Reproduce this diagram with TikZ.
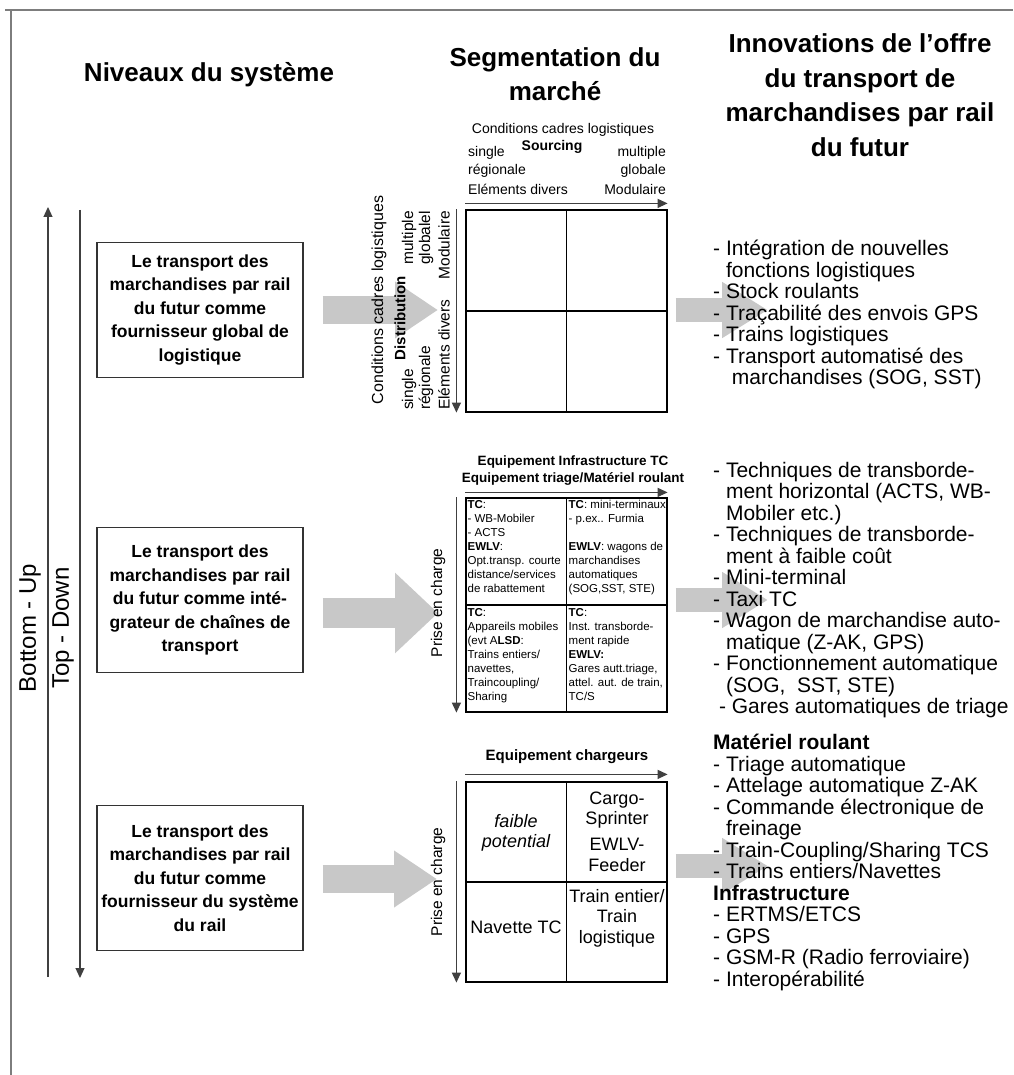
\documentclass[tikz,border=0pt]{standalone}
\usepackage{fontspec}
\setmainfont{Liberation Sans}
\usetikzlibrary{arrows.meta,positioning}
\definecolor{arrowgray}{RGB}{200,200,200}
\definecolor{framegray}{RGB}{125,125,125}
\pgfdeclarelayer{background}
\pgfsetlayers{background,main}

\begin{document}
\begin{tikzpicture}[
    x=1pt, y=-1pt,
    % text styles
    hdr/.style={align=center, font=\fontsize{26}{34.5}\selectfont\bfseries},
    lvlbox/.style={draw=black!80, line width=1.2pt, minimum width=206pt, minimum height=135pt, align=center, inner sep=0pt, font=\fontsize{17.5}{23.5}\selectfont\bfseries},
    lbl/.style={inner sep=0pt, font=\fontsize{14}{16}\selectfont},
    lblb/.style={inner sep=0pt, font=\fontsize{14}{16}\selectfont\bfseries},
    lblv/.style={inner sep=0pt, rotate=90, font=\fontsize{15.5}{17}\selectfont},
    listtxt/.style={anchor=north west, align=left, inner sep=0pt, font=\fontsize{21}{21.5}\selectfont},
    celltxt/.style={anchor=north west, align=left, inner sep=0pt, font=\fontsize{11.5}{14}\selectfont},
    celllg/.style={align=center, inner sep=0pt, font=\fontsize{18}{20.5}\selectfont},
    % shapes and arrows
    mat/.style={draw, line width=1.2pt, minimum width=201pt, inner sep=0pt},
    axis/.style={draw=black!75, line width=1.2pt, -{Triangle[length=10pt, width=9pt]}},
    bigarrow/.style={draw=arrowgray, line width=28pt, -{Triangle[length=43pt, width=54pt]}},
]
\useasboundingbox (0,0) rectangle (1013,1075);

% frame
\draw[framegray, line width=2pt] (5,10) -- (1013,10);
\draw[framegray, line width=2pt] (11,10) -- (11,1075);

% column headers
\node[hdr] (hsys) at (209,75) {Niveaux du système};
\node[hdr] (hseg) at (555,74) {Segmentation du\\marché};
\node[hdr] (hinn) at (860,95) {Innovations de l{\char"27}offre\\du transport de\\marchandises par rail\\du futur};

% system levels
\coordinate (bu0) at (48,977);
\coordinate (bu1) at (48,207);
\coordinate (td0) at (80,210);
\coordinate (td1) at (80,978);
\draw[axis] (bu0) -- (bu1);
\draw[axis] (td0) -- (td1);
\node[rotate=90, font=\fontsize{24}{28}\selectfont] (lblbu) at (30,628) {Bottom - Up};
\node[rotate=90, font=\fontsize{24}{28}\selectfont] (lbltd) at (63,628) {Top - Down};

\node[lvlbox] (lvl1) at (200,310) {Le transport des\\marchandises par rail\\du futur comme\\fournisseur global de\\logistique};
\node[lvlbox, minimum height=145pt] (lvl2) at (200,600) {Le transport des\\marchandises par rail\\du futur comme inté-\\grateur de chaînes de\\transport};
\node[lvlbox, minimum height=145pt] (lvl3) at (200,878) {Le transport des\\marchandises par rail\\du futur comme\\fournisseur du système\\du rail};

% market matrices
\node[mat, minimum height=202pt] (m1) at (566.5,311) {};
\node[mat, minimum height=214pt] (m2) at (566.5,605) {};
\node[mat, minimum height=200pt] (m3) at (566.5,882) {};
\foreach \m in {m1,m2,m3}{
  \draw[line width=1.2pt] (\m.north) -- (\m.south) (\m.west) -- (\m.east);
}
\draw[axis] ([yshift=6pt]m1.north west) -- ([yshift=6pt]m1.north east);
\draw[axis] ([xshift=-9pt]m1.north west) -- ([xshift=-9pt]m1.south west);
\draw[axis] ([yshift=5pt]m2.north west) -- ([yshift=5pt]m2.north east);
\draw[axis] ([xshift=-9pt]m2.north west) -- ([xshift=-9pt]m2.south west);
\draw[axis] ([yshift=7pt]m3.north west) -- ([yshift=7pt]m3.north east);
\draw[axis] ([xshift=-9pt]m3.north west) -- ([xshift=-9pt]m3.south west);

% matrix 1 labels
\node[lbl] (lblcond) at (563,130) {Conditions cadres logistiques};
\node[lbl, anchor=west] (lblsgl) at (468,153) {single};
\node[lblb] (lblsrc) at (552,147) {Sourcing};
\node[lbl, anchor=east] (lblmul) at (666,153) {multiple};
\node[lbl, anchor=west] (lblreg) at (468,171) {régionale};
\node[lbl, anchor=east] (lblglo) at (666,171) {globale};
\node[lbl, anchor=west] (lblelt) at (468,189) {Eléments divers};
\node[lbl, anchor=east] (lblmod) at (666,189) {Modulaire};

\node[lblv, font=\fontsize{16}{17}\selectfont] (lblcondv) at (379,300) {Conditions cadres logistiques};
\node[lblv, font=\fontsize{15}{17}\selectfont\bfseries] (lbldist) at (400,318) {Distribution};
\node[lblv, anchor=west] (lblsglv) at (409,410) {single};
\node[lblv, anchor=east] (lblmulv) at (409,211) {multiple};
\node[lblv, anchor=west] (lblregv) at (426,410) {régionale};
\node[lblv, anchor=east] (lblglov) at (426,211) {globalel};
\node[lblv, anchor=west] (lbleltv) at (444,410) {Eléments divers};
\node[lblv, anchor=east] (lblmodv) at (444,211) {Modulaire};

% matrix 2 labels and cells
\node[align=center, inner sep=0pt, font=\fontsize{13.5}{17}\selectfont\bfseries] (lbleq2) at (573,471) {Equipement Infrastructure TC\\Equipement triage/Matériel roulant};
\node[lblv] (lblpec2) at (438,603) {Prise en charge};

\node[celltxt] (c2tl) at ([shift={(2pt,-3pt)}]m2.north west) {\textbf{TC}:\\- WB-Mobiler\\- ACTS\\\textbf{EWLV}:\\Opt.transp. courte\\distance/services\\de rabattement};
\node[celltxt] (c2tr) at ([shift={(2pt,-3pt)}]m2.north) {\textbf{TC}: mini-terminaux\\- p.ex.. Furmia\\[14pt]\textbf{EWLV}: wagons de\\marchandises\\automatiques\\(SOG,SST, STE)};
\node[celltxt] (c2bl) at ([shift={(2pt,-3pt)}]m2.west) {\textbf{TC}:\\Appareils mobiles\\(evt A\textbf{LSD}:\\Trains entiers/\\navettes,\\Traincoupling/\\Sharing};
\node[celltxt] (c2br) at ([shift={(2pt,-3pt)}]m2.center) {\textbf{TC}:\\Inst. transborde-\\ment rapide\\\textbf{EWLV:}\\Gares autt.triage,\\attel. aut. de train,\\TC/S};

% matrix 3 labels and cells
\node[inner sep=0pt, font=\fontsize{15}{17}\selectfont\bfseries] (lbleq3) at (567,757) {Equipement chargeurs};
\node[lblv] (lblpec3) at (438,882) {Prise en charge};
\node[celllg, font=\fontsize{18}{20.5}\selectfont\itshape] (c3tl) at (516,833) {faible\\potential};
\node[celllg] (c3tr1) at (617,810) {Cargo-\\Sprinter};
\node[celllg] (c3tr2) at (617,855) {EWLV-\\Feeder};
\node[celllg] (c3bl) at (516,927) {Navette TC};
\node[celllg] (c3br) at (617,918) {Train entier/\\Train\\logistique};

% innovations
\node[listtxt] (inn1) at (713,240) {- Intégration de nouvelles\\\hphantom{- }fonctions logistiques\\- Stock roulants\\- Traçabilité des envois GPS\\- Trains logistiques\\- Transport automatisé des\\\hphantom{- }\ marchandises (SOG, SST)};
\node[listtxt] (inn2) at (713,462) {- Techniques de transborde-\\\hphantom{- }ment horizontal (ACTS, WB-\\\hphantom{- }Mobiler etc.)\\- Techniques de transborde-\\\hphantom{- }ment à faible coût\\- Mini-terminal\\- Taxi TC\\- Wagon de marchandise auto-\\\hphantom{- }matique (Z-AK, GPS)\\- Fonctionnement automatique\\\hphantom{- }(SOG,\ \ SST, STE)\\\ - Gares automatiques de triage};
\node[listtxt] (inn3) at (713,734) {\textbf{Matériel roulant}\\- Triage automatique\\- Attelage automatique Z-AK\\- Commande électronique de\\\hphantom{- }freinage\\- Train-Coupling/Sharing TCS\\- Trains entiers/Navettes\\\textbf{Infrastructure}\\- ERTMS/ETCS\\- GPS\\- GSM-R (Radio ferroviaire)\\- Interopérabilité};

% big gray arrows
\coordinate (tipl1) at (438,310);
\coordinate (tipl2) at (438,613);
\coordinate (tipl3) at (437,879);
\coordinate (tipr1) at (768,310);
\coordinate (tipr2) at (768,600);
\coordinate (tipr3) at (768,866);
\begin{pgfonlayer}{background}
\draw[bigarrow] ([xshift=19pt]lvl1.east) -- (tipl1);
\draw[bigarrow, line width=30pt, -{Triangle[length=43pt, width=78pt]}] ([xshift=19pt]lvl2.east |- tipl2) -- (tipl2);
\draw[bigarrow] ([xshift=19pt]lvl3.east |- tipl3) -- (tipl3);
\draw[bigarrow, line width=24pt, -{Triangle[length=46pt, width=53pt]}] ([xshift=8pt]m1.east |- tipr1) -- (tipr1);
\draw[bigarrow, line width=24pt, -{Triangle[length=46pt, width=53pt]}] ([xshift=8pt]m2.east |- tipr2) -- (tipr2);
\draw[bigarrow, line width=24pt, -{Triangle[length=46pt, width=53pt]}] ([xshift=8pt]m3.east |- tipr3) -- (tipr3);
\end{pgfonlayer}

\end{tikzpicture}
\end{document}
